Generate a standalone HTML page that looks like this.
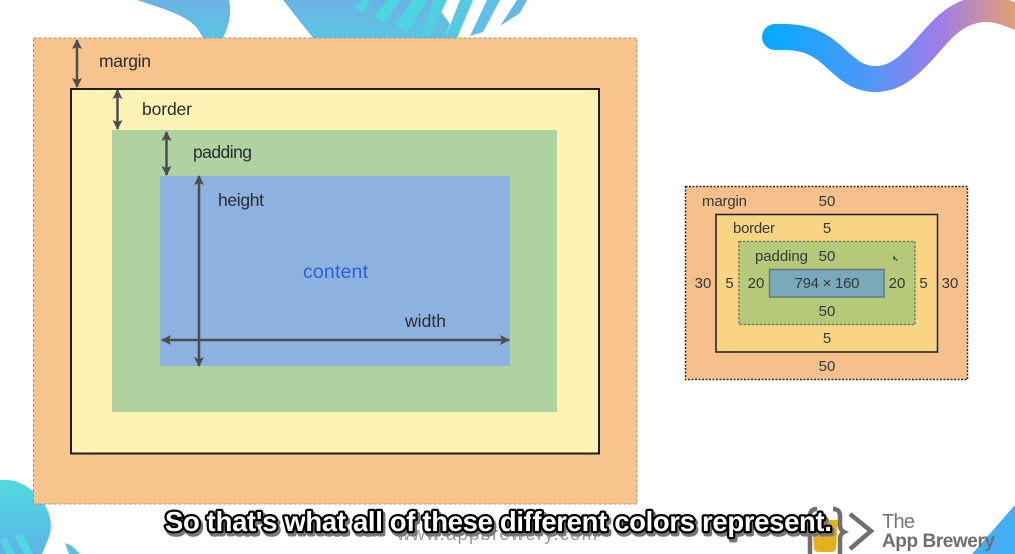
<!DOCTYPE html>
<html lang="en">
<head>
<meta charset="utf-8">
<title>CSS Box Model</title>
<style>
html,body{margin:0;padding:0;background:#fff;width:1015px;height:554px;overflow:hidden}
svg{display:block}
text{font-family:"Liberation Sans",sans-serif}
.big{font-size:17.5px;fill:#2a2d2f}
.small{font-size:15px;fill:#333a38;text-anchor:middle}
.smallL{font-size:15px;fill:#333a38}
.soft{filter:blur(0.35px)}
</style>
</head>
<body>
<svg width="1015" height="554" viewBox="0 0 1015 554" xmlns="http://www.w3.org/2000/svg">
<defs>
<linearGradient id="waveGrad" gradientUnits="userSpaceOnUse" x1="765" y1="0" x2="1015" y2="0">
<stop offset="0" stop-color="#06a9ff"/><stop offset="0.42" stop-color="#4f97f8"/><stop offset="0.7" stop-color="#a07ce8"/><stop offset="1" stop-color="#e2a070"/>
</linearGradient>
<linearGradient id="topGrad" x1="0" y1="0" x2="0" y2="1"><stop offset="0" stop-color="#6ab3e4"/><stop offset="1" stop-color="#5cc4e4"/></linearGradient>
<linearGradient id="jellyGrad" x1="0" y1="0" x2="0" y2="1"><stop offset="0" stop-color="#50dae0"/><stop offset="1" stop-color="#5cb4e6"/></linearGradient>
<marker id="ah" viewBox="0 0 10 10" refX="9" refY="5" markerWidth="4" markerHeight="4" orient="auto-start-reverse"><path d="M0 0L10 5L0 10L2 5Z" fill="#4d4d4d"/></marker>
</defs>

<g class="soft">
<path fill="url(#topGrad)" d="M137 0C160 8 185 14 197 28C199 31 201 34 203 38L223 38C229 26 232 12 229 0Z"/>
<path fill="url(#topGrad)" d="M283 0L313 38L445 38L450 24L433 0Z"/>
<g fill="#4ed6e0">
<path d="M363 0L370 0L363 13L354 7Z"/>
<path d="M387 0L400 0L385 23L374 17Z"/>
<path d="M413 0L427 0L408 32L396 25Z"/>
<path d="M434 0L447 0L430 37L420 37Z" fill="#50cfe0"/>
<path d="M460 0L473 0L457 38L445 38Z" fill="#55c8e2"/>
<path d="M487 0L500 0L483 32L470 36Z" fill="#60bfe4"/>
<path d="M517 0L527 0L520 13L500 26Z" fill="#68b8e4"/>
</g>
<path fill="none" stroke="url(#waveGrad)" stroke-width="26" stroke-linecap="round" d="M775 37C800 36 815 40 832 55C848 70 858 79 875 79C893 79 905 70 922 52C940 32 955 10 985 9C1000 9 1010 14 1030 22"/>
<path fill="url(#jellyGrad)" d="M0 480C18 478 33 488 44 504C52 516 53 530 47 542L42 554L0 554Z"/>
<path fill="#5cc0e4" d="M65 543L72 546L80 554L69 554Z"/>
<g fill="#50d8e0">
<path d="M0 540L6 538L15 554L6 554Z"/><path d="M15 536L23 534L33 554L24 554Z"/>
</g>
<path fill="#41aef5" d="M972 554L1015 505L1015 554Z"/>
</g>

<g class="soft">
<rect x="33.5" y="38" width="603.5" height="466" fill="#f6c48c" stroke="#a09484" stroke-width="1" stroke-dasharray="3 2"/>
<rect x="71" y="89" width="528" height="364.5" fill="#fdf3b5" stroke="#1e1e1e" stroke-width="2"/>
<rect x="112" y="130" width="445" height="282" fill="#b0d2a0"/>
<rect x="160" y="176" width="350" height="190" fill="#8db2e0"/>
<g stroke="#4d4d4d" stroke-width="2.500" fill="none">
<line x1="77" y1="40" x2="77" y2="87" marker-start="url(#ah)" marker-end="url(#ah)"/>
<line x1="117.500" y1="90" x2="117.500" y2="129" marker-start="url(#ah)" marker-end="url(#ah)"/>
<line x1="166.500" y1="132" x2="166.500" y2="175" marker-start="url(#ah)" marker-end="url(#ah)"/>
<line x1="199" y1="176" x2="199" y2="366" marker-start="url(#ah)" marker-end="url(#ah)"/>
<line x1="162" y1="340" x2="509" y2="340" marker-start="url(#ah)" marker-end="url(#ah)"/>
</g>
<text class="big" x="99" y="67" textLength="52">margin</text>
<text class="big" x="142" y="115" textLength="50">border</text>
<text class="big" x="193" y="158" textLength="59">padding</text>
<text class="big" x="218" y="206" textLength="46">height</text>
<text class="big" x="405" y="327" textLength="41">width</text>
<text x="303" y="278" font-size="19.500" fill="#2f62cc" textLength="65">content</text>
</g>

<g class="soft">
<rect x="685.500" y="186.500" width="282" height="193" fill="#f6c08c" stroke="#2c2c2c" stroke-width="1.500" stroke-dasharray="2 1.500"/>
<rect x="716" y="214.500" width="221.500" height="137.500" fill="#f9d583" stroke="#1c1c1c" stroke-width="1.500"/>
<rect x="739" y="241.500" width="176" height="83" fill="#b6c97a" stroke="#5f7268" stroke-width="1.200" stroke-dasharray="2.500 1.500"/>
<rect x="769.500" y="269.500" width="114.500" height="27.500" fill="#7ba9bc" stroke="#66777a" stroke-width="1.500"/>
<text class="smallL" x="702" y="206" textLength="45">margin</text>
<text class="smallL" x="733" y="233" textLength="42">border</text>
<text class="smallL" x="755" y="261" textLength="53">padding</text>
<text class="small" x="827" y="206">50</text>
<text class="small" x="827" y="233">5</text>
<text class="small" x="827" y="261">50</text>
<text class="small" x="827" y="288" textLength="65">794 × 160</text>
<text class="small" x="703" y="288">30</text>
<text class="small" x="729.500" y="288">5</text>
<text class="small" x="756" y="288">20</text>
<text class="small" x="897" y="288">20</text>
<text class="small" x="923.500" y="288">5</text>
<text class="small" x="950" y="288">30</text>
<text class="small" x="827" y="316">50</text>
<text class="small" x="827" y="343">5</text>
<text class="small" x="827" y="371">50</text>
<path d="M893.500 255L893.500 260L895 259L897 261L897.500 259.500L895.500 258.500Z" fill="#2c2c2c"/>
</g>

<text x="397" y="540" font-size="18.500" fill="#9a9a9a" textLength="200">www.appbrewery.com</text>

<g class="soft">
<path d="M812 520L838 520L836 549Q835 552 831 552L819 552Q815 552 814 549Z" fill="#e2b21e"/>
<path d="M817 509Q810 509 810 516L810 525Q810 530 806 532Q810 534 810 539L810 554" fill="none" stroke="#6f6f6f" stroke-width="4.500"/>
<path d="M833 509Q840 509 840 516L840 525Q840 530 844 532Q840 534 840 539L840 554" fill="none" stroke="#6f6f6f" stroke-width="4.500"/>
<path d="M850 514L871 531L850 549" fill="none" stroke="#6f6f6f" stroke-width="4.500"/>
<text x="882" y="528" font-size="20" fill="#777" textLength="33">The</text>
<text x="882" y="547" font-size="19" font-weight="700" fill="#6f6f6f" textLength="113">App Brewery</text>
</g>

<g font-size="27.500" font-weight="700">
<text x="167" y="534" textLength="667" fill="#777" stroke="#777" stroke-width="5" stroke-linejoin="round">So that's what all of these different colors represent.</text>
<text x="165" y="531" textLength="667" fill="#fff" stroke="#000" stroke-width="4.500" stroke-linejoin="round" paint-order="stroke">So that's what all of these different colors represent.</text>
</g>
</svg>
</body>
</html>
